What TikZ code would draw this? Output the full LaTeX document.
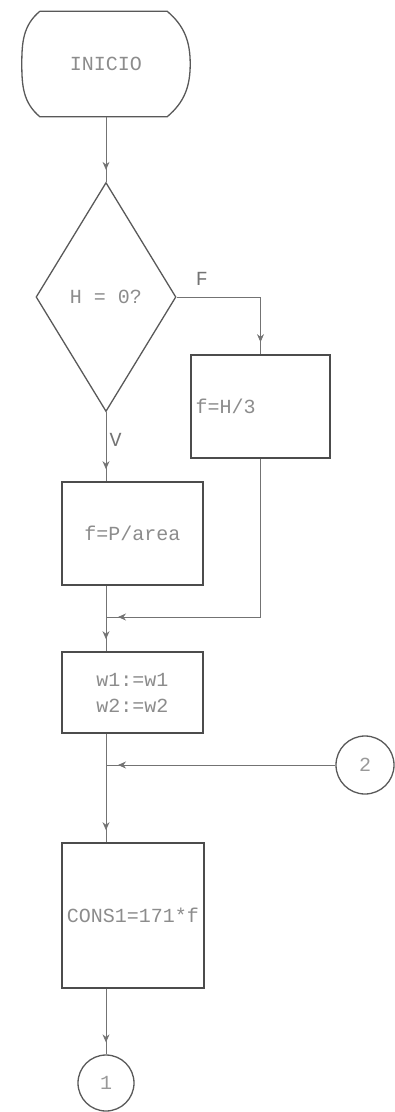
\documentclass[tikz,border=0pt]{standalone}
\usepackage{fontspec}
\setmonofont{Liberation Mono}
\usetikzlibrary{shapes.geometric, arrows.meta, decorations.markings, positioning}

\begin{document}
\begin{tikzpicture}[
    x=1pt, y=1pt,
    font=\ttfamily\fontsize{20}{26}\selectfont,
    term/.style={rectangle, minimum width=168pt, minimum height=105pt, text=black!45},
    termline/.style={draw=black!65, line width=1.3pt},
    box/.style={rectangle, draw=black!70, line width=1.7pt, minimum width=141pt, minimum height=103pt, align=center, text=black!45},
    decision/.style={diamond, draw=black!65, line width=1.3pt, minimum width=140pt, minimum height=229pt, inner sep=0pt, text=black!45},
    joint/.style={circle, draw=black!65, line width=1.3pt, minimum size=58pt, inner sep=0pt, text=black!40},
    line/.style={color=black!55, line width=0.8pt},
    arrow/.style={line, postaction={decorate}, decoration={markings, mark=at position -12pt with {\arrow{Stealth[length=8pt,width=7pt]}}}},
    lbl/.style={text=black!55}
]
    \useasboundingbox (0,0) rectangle (395,-1112);

    % Nodes
    \node[term] (start) at (106,-64) {INICIO};
    \draw[termline] ([xshift=18pt]start.north west) -- ([xshift=-23pt]start.north east)
        to[out=-40, in=90] (start.east) to[out=-90, in=40] ([xshift=-23pt]start.south east)
        -- ([xshift=18pt]start.south west) to[out=140, in=-90] (start.west)
        to[out=90, in=220] ([xshift=18pt]start.north west);
    \node[decision] (dec) at (106,-297) {H = 0?};
    \node[box, minimum width=139pt, text width=130pt, align=left] (hbox) at (260.5,-406.5) {f=H/3};
    \node[box] (pbox) at (132.5,-533.5) {f=P/area};
    \node[box, minimum height=81pt] (wbox) at (132.5,-692.5) {w1:=w1\\w2:=w2};
    \node[box, minimum width=142pt, minimum height=145pt] (cbox) at (133,-915.5) {CONS1=171*f};
    \node[joint] (conn) at (365,-765) {2};
    \node[joint, minimum size=56pt] (endc) at (106,-1083) {1};
    \coordinate (j1) at (106,-617);
    \coordinate (j2) at (106,-765);

    % Arrows
    \draw[arrow] (start.south) -- (dec.north);
    \draw[arrow] (dec.east) -| (hbox.north) node[lbl, pos=0.15, above=8pt] {F};
    \draw[arrow] (dec.south) -- (dec.south |- pbox.north) node[lbl, pos=0.4, right] {V};
    \draw[arrow] (hbox.south) |- (j1);
    \draw[arrow] (dec.south |- pbox.south) -- (dec.south |- wbox.north);
    \draw[arrow] (conn.west) -- (j2);
    \draw[arrow] (dec.south |- wbox.south) -- (dec.south |- cbox.north);
    \draw[arrow] (dec.south |- cbox.south) -- (endc.north);
\end{tikzpicture}
\end{document}
